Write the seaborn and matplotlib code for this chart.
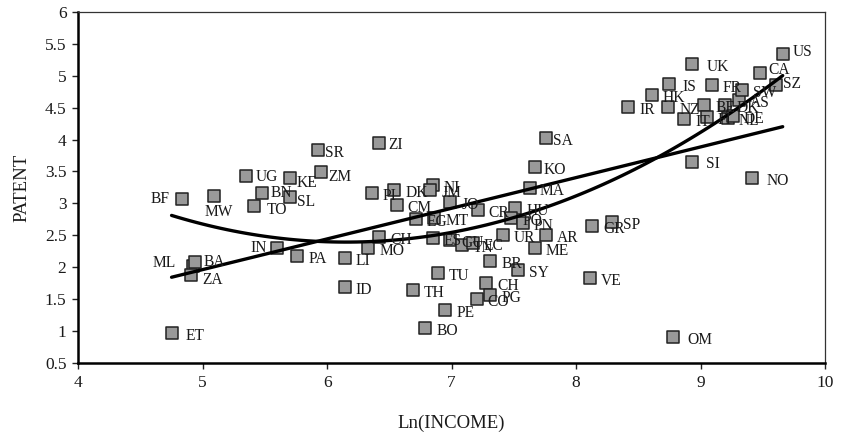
import numpy as np
import pandas as pd
import matplotlib
matplotlib.use("Agg")
import matplotlib.pyplot as plt
import seaborn as sns

# ---- data ----
codes = ["US", "CA", "SZ", "UK", "IS", "FR", "HK", "IR", "NZ", "IT", "BE", "FI", "DK", "NL",
         "AS", "SW", "DE", "SI", "NO", "OM", "ET", "SA", "KO", "MA", "ZI", "SR", "ZM", "KE",
         "UG", "BN", "SL", "TO", "MW", "BF", "PI", "DK", "CM", "NI", "JM", "JO", "EG", "MT",
         "CR", "HU", "PO", "PN", "UR", "AR", "ME", "GR", "SP", "SY", "BR", "VE", "ES", "GU",
         "TN", "EC", "TU", "TH", "PE", "BO", "CH", "CO", "PG", "IN", "PA", "LI", "ID", "MO",
         "CH", "ML", "BA", "ZA"]
ln_income = [9.66, 9.48, 9.61, 8.93, 8.75, 9.09, 8.61, 8.42, 8.74, 8.87, 9.03, 9.05, 9.20, 9.22,
             9.31, 9.33, 9.26, 8.93, 9.41, 8.78, 4.75, 7.76, 7.67, 7.63, 6.42, 5.93, 5.95, 5.70,
             5.35, 5.48, 5.70, 5.41, 5.09, 4.83, 6.36, 6.54, 6.56, 6.85, 6.83, 6.99, 6.71, 6.86,
             7.21, 7.51, 7.48, 7.57, 7.41, 7.76, 7.67, 8.13, 8.29, 7.53, 7.31, 8.11, 6.85, 6.99,
             7.08, 7.17, 6.89, 6.69, 6.95, 6.79, 7.28, 7.20, 7.31, 5.60, 5.76, 6.14, 6.14, 6.33,
             6.42, 4.92, 4.94, 4.91]
patent = [5.34, 5.04, 4.86, 5.18, 4.87, 4.86, 4.70, 4.51, 4.51, 4.32, 4.54, 4.35, 4.54, 4.34,
          4.62, 4.78, 4.37, 3.65, 3.40, 0.91, 0.97, 4.03, 3.57, 3.24, 3.95, 3.84, 3.49, 3.40,
          3.43, 3.16, 3.10, 2.96, 3.12, 3.07, 3.16, 3.21, 2.97, 3.29, 3.21, 3.02, 2.76, 2.77,
          2.90, 2.93, 2.77, 2.69, 2.50, 2.50, 2.30, 2.65, 2.71, 1.96, 2.10, 1.83, 2.46, 2.43,
          2.35, 2.38, 1.91, 1.64, 1.33, 1.05, 1.75, 1.51, 1.56, 2.30, 2.18, 2.14, 1.69, 2.30,
          2.47, 2.02, 2.08, 1.88]

x_ticks = [4, 5, 6, 7, 8, 9, 10]
y_ticks = [0.5, 1, 1.5, 2, 2.5, 3, 3.5, 4, 4.5, 5, 5.5, 6]
y_tick_labels = ["0.5", "1", "1.5", "2", "2.5", "3", "3.5", "4", "4.5", "5", "5.5", "6"]

df = pd.DataFrame({"code": codes, "ln_income": ln_income, "patent": patent})

# label placement (pixel offsets from marker centre) for the special cases
label_default = (11, -3, "left")
label_special = {
    0: (10, 2, "left"), 1: (8, 3, "left"), 2: (7, 1, "left"), 3: (15, -3, "left"),
    4: (13, -3, "left"), 17: (14, -2, "left"), 18: (15, -3, "left"), 19: (14, -3, "left"),
    20: (14, -3, "left"), 21: (7, -3, "left"), 22: (9, -3, "left"), 23: (10, -3, "left"),
    24: (9, -2, "left"), 25: (7, -3, "left"), 26: (7, -5, "left"), 27: (7, -5, "left"),
    28: (9, -1, "left"), 29: (8, 0, "left"), 30: (7, -5, "left"), 31: (13, -4, "left"),
    32: (-9, -16, "left"), 33: (-12, 0, "right"), 65: (-11, 0, "right"),
    71: (-17, 3, "right"), 72: (8, 0, "left"), 73: (11, -5, "left"),
}

sns.set_style("ticks")
plt.rcParams["font.family"] = ["Liberation Serif", "DejaVu Serif"]
text_color = "#1a1a1a"

fig = plt.figure(figsize=(8.41, 4.38), dpi=100)
ax = fig.add_axes([0.093, 0.171, 0.888, 0.802])

sns.scatterplot(data=df, x="ln_income", y="patent", marker="s", s=72,
                color="#999999", edgecolor="#222222", linewidth=1.1, ax=ax, zorder=3)
sns.regplot(data=df, x="ln_income", y="patent", order=1, ci=None, scatter=False,
            truncate=True, line_kws=dict(color="black", lw=2.4, zorder=4), ax=ax)
sns.regplot(data=df, x="ln_income", y="patent", order=2, ci=None, scatter=False,
            truncate=True, line_kws=dict(color="black", lw=2.4, zorder=4), ax=ax)

for i, row in df.iterrows():
    dx, dy, ha = label_special.get(i, label_default)
    ax.annotate(row["code"], (row["ln_income"], row["patent"]), xytext=(dx, dy),
                textcoords="offset pixels", ha=ha, va="center", fontsize=11.2,
                color=text_color, zorder=5)

ax.set_xlim(4, 10)
ax.set_ylim(0.5, 6)
ax.set_xticks(x_ticks)
ax.set_xticklabels([str(t) for t in x_ticks])
ax.set_yticks(y_ticks)
ax.set_yticklabels(y_tick_labels)
ax.tick_params(axis="both", direction="out", length=4.5, width=1.0, color="#222222",
               labelsize=12.5, labelcolor=text_color, pad=4)
ax.set_xlabel("Ln(INCOME)", fontsize=13.5, color=text_color, labelpad=17)
ax.set_ylabel("PATENT", fontsize=13.5, color=text_color, labelpad=10)

for side in ["left", "bottom"]:
    ax.spines[side].set_linewidth(1.8)
    ax.spines[side].set_color("black")
for side in ["top", "right"]:
    ax.spines[side].set_visible(True)
    ax.spines[side].set_linewidth(0.9)
    ax.spines[side].set_color("#333333")

fig.savefig("out.png", dpi=100)
